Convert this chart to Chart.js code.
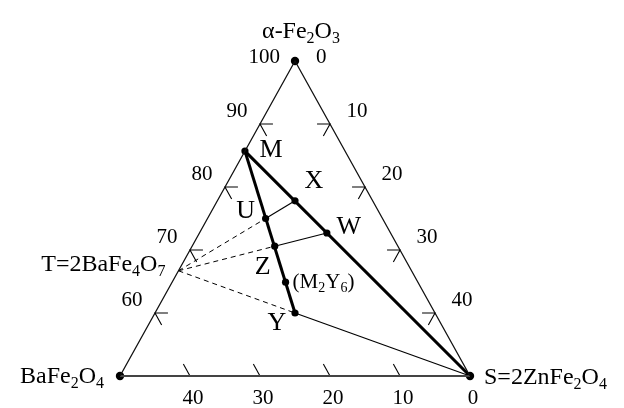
<!DOCTYPE html>
<html><head><meta charset="utf-8">
<script src="https://cdn.jsdelivr.net/npm/chart.js@4.4.1/dist/chart.umd.min.js"></script>
<style>html,body{margin:0;padding:0;background:#fff;}#wrap{width:624px;height:408px;}</style>
</head><body><div id="wrap"><canvas id="c" width="624" height="408"></canvas></div>
<script>
// ---- data (mol %: Fe2O3, BaO, ZnO) ----
const cornerNames = ['α-Fe_2O_3', 'BaFe_2O_4', 'S=2ZnFe_2O_4'];
const cornerFe = [100, 50, 50];
const cornerBa = [0, 50, 0];
const cornerZn = [0, 0, 50];

const phaseNames = ['M', 'X', 'W', 'U', 'Z', '(M_2Y_6)', 'Y'];
const phaseFe = [85.7, 77.8, 72.7, 75.0, 70.6, 64.9, 60.0];
const phaseBa = [14.3, 11.1, 9.1, 16.7, 17.6, 18.9, 20.0];
const phaseZn = [0.0, 11.1, 18.2, 8.3, 11.8, 16.2, 20.0];

const tName = 'T=2BaFe_4O_7';
const tFe = 66.7, tBa = 33.3, tZn = 0;

const feTicks = [100, 90, 80, 70, 60];   // left edge (α-Fe2O3 %)
const znTicks = [0, 10, 20, 30, 40];     // right edge (ZnO %)
const baTicks = [40, 30, 20, 10, 0];     // bottom edge (BaO %)

// line connections by phase name
const thickLines = [['M', 'S'], ['M', 'Y']];
const thinLines = [['U', 'X'], ['Z', 'W'], ['Y', 'S']];
const dashedLines = [['T', 'U'], ['T', 'Z'], ['T', 'Y']];

// ---- helpers ----
function toXY(fe, ba, zn) { return { x: zn - ba, y: fe - 50 }; }
const P = {};
phaseNames.forEach((n, i) => { P[n] = toXY(phaseFe[i], phaseBa[i], phaseZn[i]); });
P['A'] = toXY(cornerFe[0], cornerBa[0], cornerZn[0]);
P['B'] = toXY(cornerFe[1], cornerBa[1], cornerZn[1]);
P['S'] = toXY(cornerFe[2], cornerBa[2], cornerZn[2]);
P['T'] = toXY(tFe, tBa, tZn);
P['(M2Y6)'] = P['(M_2Y_6)'];

const datasets = [];
function seg(pts, opt) {
  datasets.push(Object.assign({ data: pts, showLine: true, pointRadius: 0, borderColor: '#000', borderWidth: 1.2, clip: false, fill: false, tension: 0 }, opt));
}
// triangle edges
seg([P.B, P.A, P.S], { borderWidth: 1.3, borderColor: '#111' });
seg([P.B, P.S], { borderWidth: 2, borderColor: '#444' });
// ticks
feTicks.slice(1).forEach(fe => {
  const v = toXY(fe, 100 - fe, 0);
  seg([{ x: v.x + 3.7, y: v.y }, v, { x: v.x + 1.9, y: v.y - 1.9 }], { borderWidth: 1.1 });
});
znTicks.slice(1).forEach(zn => {
  const v = toXY(100 - zn, 0, zn);
  seg([{ x: v.x - 3.7, y: v.y }, v, { x: v.x - 1.9, y: v.y - 1.9 }], { borderWidth: 1.1 });
});
baTicks.slice(0, -1).forEach(ba => {
  const v = toXY(50, ba, 50 - ba);
  seg([v, { x: v.x - 1.9, y: v.y + 1.9 }], { borderWidth: 1.1 });
});
dashedLines.forEach(([a, b]) => seg([P[a], P[b]], { borderWidth: 1, borderDash: [5, 4] }));
thinLines.forEach(([a, b]) => seg([P[a], P[b]], { borderWidth: 1.2 }));
thickLines.forEach(([a, b]) => seg([P[a], P[b]], { borderWidth: 3 }));
// points
datasets.push({ data: phaseNames.map(n => P[n]), showLine: false, pointRadius: 3.6, pointBackgroundColor: '#000', pointBorderWidth: 0, clip: false });
datasets.push({ data: [P.A, P.B, P.S], showLine: false, pointRadius: 4.2, pointBackgroundColor: '#000', pointBorderWidth: 0, clip: false });

const FONT = '"Liberation Serif", "Times New Roman", serif';

function rich(ctx, str, x, y, size, align) {
  const parts = [];
  for (let i = 0; i < str.length; i++) {
    if (str[i] === '_') { parts.push([str[i + 1], 1]); i++; }
    else {
      if (parts.length && parts[parts.length - 1][1] === 0) parts[parts.length - 1][0] += str[i];
      else parts.push([str[i], 0]);
    }
  }
  const sub = Math.round(size * 0.68);
  let total = 0;
  const w = parts.map(([t, s]) => { ctx.font = (s ? sub : size) + 'px ' + FONT; const m = ctx.measureText(t).width; total += m; return m; });
  let cx = align === 'right' ? x - total : align === 'center' ? x - total / 2 : x;
  ctx.textBaseline = 'middle';
  ctx.textAlign = 'left';
  parts.forEach(([t, s], i) => {
    ctx.font = (s ? sub : size) + 'px ' + FONT;
    ctx.fillText(t, cx, s ? y + size * 0.3 : y);
    cx += w[i];
  });
}

const labelPlugin = {
  id: 'ternLabels',
  afterDatasetsDraw(chart) {
    const { ctx, scales: { x, y } } = chart;
    const px = p => [x.getPixelForValue(p.x), y.getPixelForValue(p.y)];
    ctx.save();
    ctx.fillStyle = '#000';
    // corners
    let [ax, ay] = px(P.A);
    rich(ctx, cornerNames[0], ax + 6, ay - 29, 24, 'center');
    let [bx, by] = px(P.B);
    rich(ctx, cornerNames[1], bx - 16, by + 1, 24, 'right');
    let [sx, sy] = px(P.S);
    rich(ctx, cornerNames[2], sx + 14, sy + 2, 24, 'left');
    // top tick labels
    rich(ctx, String(feTicks[0]), ax - 15, ay - 4, 21, 'right');
    rich(ctx, String(znTicks[0]), ax + 21, ay - 4, 21, 'left');
    feTicks.slice(1).forEach(fe => {
      const [tx, ty] = px(toXY(fe, 100 - fe, 0));
      rich(ctx, String(fe), tx - 23, ty - 13, 21, 'center');
    });
    znTicks.slice(1).forEach(zn => {
      const [tx, ty] = px(toXY(100 - zn, 0, zn));
      rich(ctx, String(zn), tx + 27, ty - 13, 21, 'center');
    });
    baTicks.forEach(ba => {
      const [tx, ty] = px(toXY(50, ba, 50 - ba));
      rich(ctx, String(ba), tx + 3, ty + 22, 21, 'center');
    });
    // T label
    const [ttx, tty] = px(P.T);
    rich(ctx, tName, ttx - 13, tty - 6, 24, 'right');
    // phase labels
    const off = { 'M': [26, -1, 'center', 26], 'X': [19, -20, 'center', 26], 'W': [22, -6, 'center', 26], 'U': [-20, -7, 'center', 26], 'Z': [-12, 21, 'center', 26], '(M_2Y_6)': [7, 0, 'left', 21], 'Y': [-18, 10, 'center', 26] };
    phaseNames.forEach(n => {
      const [qx, qy] = px(P[n]);
      const o = off[n];
      rich(ctx, n, qx + o[0], qy + o[1], o[3], o[2]);
    });
    ctx.restore();
  }
};

new Chart(document.getElementById('c'), {
  type: 'scatter',
  data: { datasets },
  options: {
    responsive: false,
    devicePixelRatio: 1,
    animation: false,
    events: [],
    layout: { padding: { left: 120, right: 154, top: 61, bottom: 32 } },
    plugins: { legend: { display: false }, tooltip: { enabled: false } },
    scales: {
      x: { type: 'linear', min: -50, max: 50, display: false },
      y: { type: 'linear', min: 0, max: 50, display: false }
    }
  },
  plugins: [labelPlugin]
});
</script>
</body></html>
